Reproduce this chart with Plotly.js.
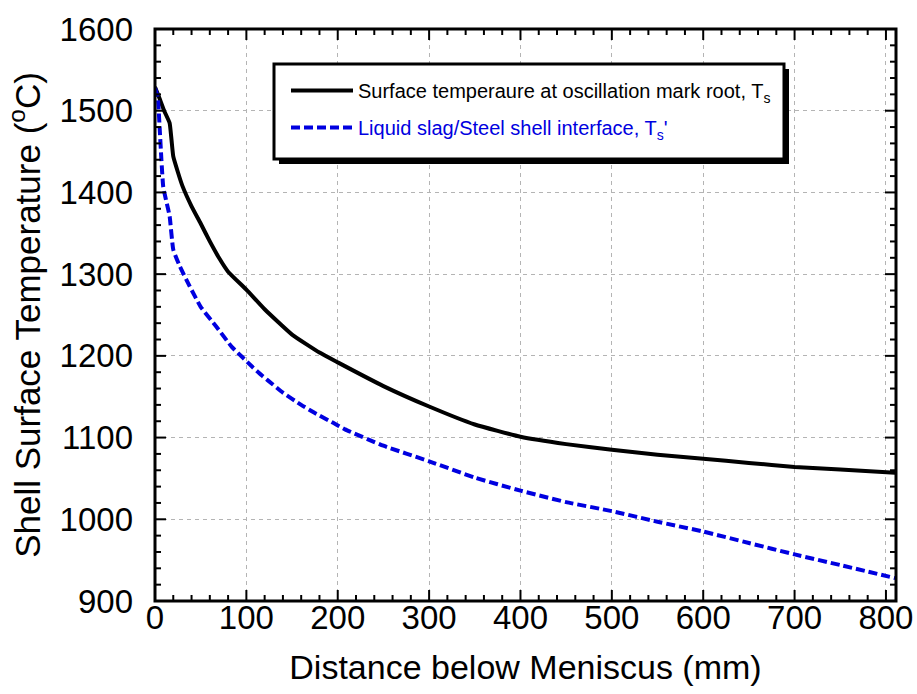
<!DOCTYPE html>
<html>
<head>
<meta charset="utf-8">
<script src="https://cdn.plot.ly/plotly-3.0.1.min.js"></script>
<style>
html,body{margin:0;padding:0;background:#fff;}
#chart{width:917px;height:694px;}
</style>
</head>
<body>
<div id="chart"></div>
<script>
// Surface temperature at oscillation mark root, Ts
const rootX = [0, 5, 10, 16, 18, 20, 25, 30, 40, 50, 60, 70, 80, 100, 120, 150, 180, 200, 250, 300, 350, 400, 450, 500, 550, 600, 650, 700, 750, 810];
const rootY = [1529, 1515, 1500, 1485, 1465, 1444, 1425, 1408, 1383, 1362, 1340, 1320, 1303, 1281, 1257, 1226, 1204, 1192, 1163, 1138, 1116, 1101, 1092, 1085, 1079, 1074, 1069, 1064, 1061, 1057];

// Liquid slag / steel shell interface, Ts'
const slagX = [0, 3, 5, 7, 9, 12, 16, 20, 27, 38, 50, 67, 84, 96, 107, 118, 129, 140, 160, 175, 195, 208, 250, 300, 350, 400, 450, 500, 550, 600, 650, 700, 750, 810];
const slagY = [1528, 1517, 1481, 1440, 1407, 1391, 1371, 1330, 1310, 1285, 1260, 1236, 1211, 1198, 1186, 1175, 1165, 1155, 1140, 1130, 1118, 1110, 1090, 1071, 1051, 1035, 1021, 1010, 997, 985, 971, 957, 944, 928];

const seriesNames = [
  'Surface temperaure at oscillation mark root, T<sub>s</sub>',
  '<span style="color:#0000e0">Liquid slag/Steel shell interface, T<sub>s</sub>\'</span>'
];
const xTitle = 'Distance below Meniscus (mm)';
const yTitle = 'Shell Surface Temperature (<sup>o</sup>C)';

const xRange = [0, 811];
const yRange = [900, 1600];
const xMajor = 100, xMinor = 20;
const yMajor = 100, yMinor = 20;

const FONT = '"Liberation Sans", Arial, sans-serif';

const traces = [
  {x: rootX, y: rootY, mode: 'lines', name: seriesNames[0], legendgroup: 'a',
   line: {color: '#000000', width: 4, shape: 'spline', smoothing: 0.4}},
  {x: slagX, y: slagY, mode: 'lines', name: seriesNames[1], legendgroup: 'b',
   line: {color: '#0000e0', width: 4, dash: '9px,4px', shape: 'spline', smoothing: 0.4}}
];

function axisBase() {
  return {
    showline: false, ticks: '',
    showgrid: true, gridcolor: '#b4b4b4', gridwidth: 1, griddash: '4px,4px',
    zeroline: false,
    tickfont: {family: FONT, size: 33, color: '#000000'}
  };
}

// plot area in pixels
const PL = 155, PR = 896, PT = 29, PB = 601;
const PW = PR - PL, PH = PB - PT;
const px = v => (v - PL) / PW;
const py = v => (PB - v) / PH;

const xaxis = Object.assign(axisBase(), {
  range: xRange, dtick: xMajor, tick0: 0,
  ticklabelstandoff: -6,
  title: {text: xTitle, font: {family: FONT, size: 34, color: '#000000'}, standoff: 20}
});
const yaxis = Object.assign(axisBase(), {
  range: yRange, dtick: yMajor, tick0: yRange[0],
  ticklabelstandoff: 21,
  title: {text: yTitle, font: {family: FONT, size: 35, color: '#000000'}, standoff: 8}
});

// Axis frame and inward ticks (all four sides) drawn as layout shapes
const shapes = [];
const MAJ = 11, MIN = 6;
for (let v = xRange[0]; v <= xRange[1] + 1e-9; v += xMinor) {
  const len = (Math.abs(v % xMajor) < 1e-9 ? MAJ : MIN) / PH;
  shapes.push({type: 'line', xref: 'x', yref: 'paper', x0: v, x1: v, y0: 0, y1: len, layer: 'above', line: {color: '#000', width: 2}});
  shapes.push({type: 'line', xref: 'x', yref: 'paper', x0: v, x1: v, y0: 1, y1: 1 - len, layer: 'above', line: {color: '#000', width: 2}});
}
for (let v = yRange[0]; v <= yRange[1] + 1e-9; v += yMinor) {
  const len = (Math.abs(v % yMajor) < 1e-9 ? MAJ : MIN) / PW;
  shapes.push({type: 'line', xref: 'paper', yref: 'y', x0: 0, x1: len, y0: v, y1: v, layer: 'above', line: {color: '#000', width: 2}});
  shapes.push({type: 'line', xref: 'paper', yref: 'y', x0: 1, x1: 1 - len, y0: v, y1: v, layer: 'above', line: {color: '#000', width: 2}});
}
shapes.push({type: 'rect', xref: 'paper', yref: 'paper', x0: 0, x1: 1, y0: 0, y1: 1, layer: 'above',
             fillcolor: 'rgba(0,0,0,0)', line: {color: '#000', width: 3}});
// legend box with drop shadow
shapes.push({type: 'rect', xref: 'paper', yref: 'paper', layer: 'above',
             x0: px(279), x1: px(789), y0: py(164), y1: py(69),
             fillcolor: '#000000', line: {width: 0}});
shapes.push({type: 'rect', xref: 'paper', yref: 'paper', layer: 'above',
             x0: px(274), x1: px(784), y0: py(159), y1: py(64),
             fillcolor: '#ffffff', line: {color: '#000000', width: 3}});

const layout = {
  width: 917, height: 694,
  margin: {l: PL, r: 917 - PR, t: PT, b: 694 - PB, pad: 0},
  paper_bgcolor: '#ffffff', plot_bgcolor: '#ffffff',
  font: {family: FONT, color: '#000000'},
  showlegend: true,
  legend: {
    x: px(286), y: py(71), xanchor: 'left', yanchor: 'top',
    bgcolor: 'rgba(0,0,0,0)', borderwidth: 0,
    font: {family: FONT, size: 20, color: '#000000'},
    itemwidth: 62, traceorder: 'grouped', tracegroupgap: 8
  },
  xaxis: xaxis, yaxis: yaxis,
  shapes: shapes
};

Plotly.newPlot('chart', traces, layout, {displayModeBar: false, staticPlot: true});
</script>
</body>
</html>
